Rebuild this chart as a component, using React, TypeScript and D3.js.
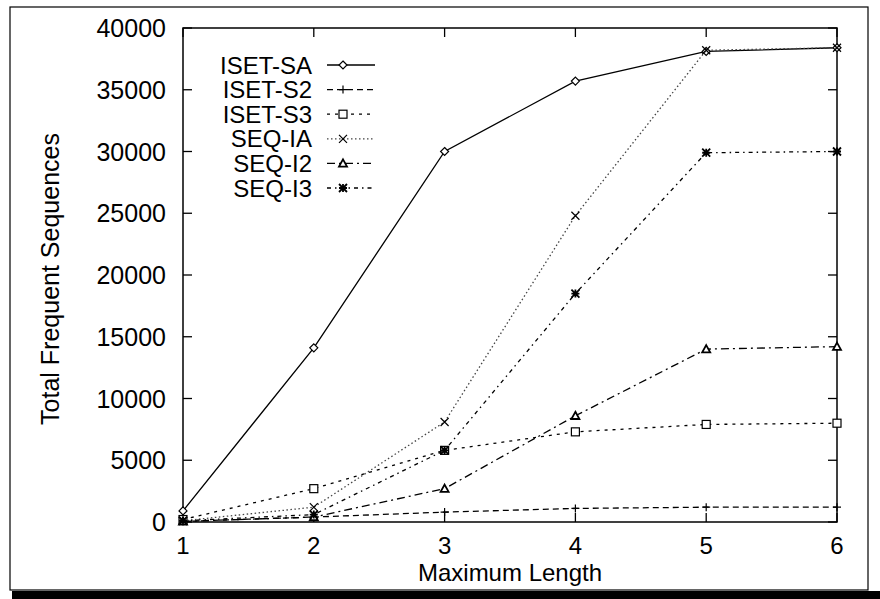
import React from "react"
import * as d3 from "d3"

const W = 880
const H = 599

const lengths = [1, 2, 3, 4, 5, 6]
const yTicks = [0, 5000, 10000, 15000, 20000, 25000, 30000, 35000, 40000]

const isetSA = [900, 14100, 30000, 35700, 38100, 38400]
const isetS2 = [50, 400, 800, 1100, 1200, 1200]
const isetS3 = [200, 2700, 5800, 7300, 7900, 8000]
const seqIA = [100, 1200, 8100, 24800, 38200, 38400]
const seqI2 = [50, 400, 2700, 8600, 14000, 14200]
const seqI3 = [100, 600, 5800, 18500, 29900, 30000]

const seriesNames = ["ISET-SA", "ISET-S2", "ISET-S3", "SEQ-IA", "SEQ-I2", "SEQ-I3"]
const seriesValues = [isetSA, isetS2, isetS3, seqIA, seqI2, seqI3]
const dashes = ["none", "6,4", "3,5", "1.5,2.5", "8,4,2,4", "4,4,1.5,4"]
const strokes = ["#000", "#000", "#000", "#444", "#000", "#000"]
const markers = ["diamond", "plus", "square", "cross", "triangle", "star"]

const plot = { left: 183, right: 837, top: 28, bottom: 522 }
const font = "'Liberation Sans', Arial, Helvetica, sans-serif"

const x = d3.scaleLinear().domain([1, 6]).range([plot.left, plot.right])
const y = d3.scaleLinear().domain([0, 40000]).range([plot.bottom, plot.top])

const Marker = ({ kind, cx, cy }: { kind: string; cx: number; cy: number }) => {
  const s = 4
  const st = { stroke: "#000", strokeWidth: 1.2, fill: "none" }
  if (kind === "diamond")
    return <path d={`M${cx},${cy - s}L${cx + s},${cy}L${cx},${cy + s}L${cx - s},${cy}Z`} style={{ ...st, fill: "#fff" }} />
  if (kind === "plus")
    return <path d={`M${cx - s},${cy}H${cx + s}M${cx},${cy - s}V${cy + s}`} style={st} />
  if (kind === "square")
    return <rect x={cx - s} y={cy - s} width={2 * s} height={2 * s} style={{ ...st, fill: "#fff" }} />
  if (kind === "cross")
    return <path d={`M${cx - s},${cy - s}L${cx + s},${cy + s}M${cx - s},${cy + s}L${cx + s},${cy - s}`} style={st} />
  if (kind === "triangle")
    return <path d={`M${cx},${cy - s}L${cx + s},${cy + s * 0.8}L${cx - s},${cy + s * 0.8}Z`} style={{ ...st, fill: "#fff", strokeWidth: 1.8 }} />
  return (
    <path
      d={`M${cx - s},${cy - s}L${cx + s},${cy + s}M${cx - s},${cy + s}L${cx + s},${cy - s}M${cx - s},${cy}H${cx + s}M${cx},${cy - s}V${cy + s}`}
      style={{ ...st, strokeWidth: 1.8 }}
    />
  )
}

export default function App() {
  const line = d3
    .line<number>()
    .x((_, i) => x(lengths[i]))
    .y(d => y(d))

  return (
    <svg width={W} height={H} style={{ position: "absolute", left: 0, top: 0, background: "#fff" }}>
      {/* scanned page frame */}
      <rect x={10} y={7} width={858} height={583} style={{ fill: "none", stroke: "#000", strokeWidth: 1.2 }} />
      <rect x={12} y={591} width={868} height={8} style={{ fill: "#000" }} />

      <rect
        x={plot.left}
        y={plot.top}
        width={plot.right - plot.left}
        height={plot.bottom - plot.top}
        style={{ fill: "none", stroke: "#000", strokeWidth: 1.5 }}
      />

      {yTicks.map(t => (
        <g key={t}>
          <line x1={plot.left} x2={plot.left + 9} y1={y(t)} y2={y(t)} stroke="#000" strokeWidth={1.3} />
          <line x1={plot.right} x2={plot.right - 9} y1={y(t)} y2={y(t)} stroke="#000" strokeWidth={1.3} />
          <text x={plot.left - 17} y={y(t)} dy="0.36em" textAnchor="end" style={{ font: `25px ${font}` }}>
            {t}
          </text>
        </g>
      ))}
      {lengths.map(t => (
        <g key={t}>
          <line x1={x(t)} x2={x(t)} y1={plot.bottom} y2={plot.bottom - 9} stroke="#000" strokeWidth={1.3} />
          <line x1={x(t)} x2={x(t)} y1={plot.top} y2={plot.top + 9} stroke="#000" strokeWidth={1.3} />
          <text x={x(t)} y={554} textAnchor="middle" style={{ font: `24px ${font}` }}>
            {t}
          </text>
        </g>
      ))}

      <text x={(plot.left + plot.right) / 2} y={581} textAnchor="middle" style={{ font: `24px ${font}` }}>
        Maximum Length
      </text>
      <text
        transform={`translate(59,${(plot.top + plot.bottom) / 2 + 4}) rotate(-90)`}
        textAnchor="middle"
        style={{ font: `25px ${font}` }}
      >
        Total Frequent Sequences
      </text>

      {seriesValues.map((vals, k) => (
        <g key={seriesNames[k]}>
          <path
            d={line(vals) || ""}
            style={{ fill: "none", stroke: strokes[k], strokeWidth: 1.3, strokeDasharray: dashes[k] }}
          />
          {vals.map((v, i) => (
            <Marker key={i} kind={markers[k]} cx={x(lengths[i])} cy={y(v)} />
          ))}
        </g>
      ))}

      {seriesNames.map((name, k) => {
        const ly = 65 + k * 24.6
        return (
          <g key={name}>
            <text x={312} y={ly} dy="0.36em" textAnchor="end" style={{ font: `24px ${font}` }}>
              {name}
            </text>
            <line
              x1={327}
              x2={375}
              y1={ly}
              y2={ly}
              style={{ stroke: strokes[k], strokeWidth: 1.3, strokeDasharray: dashes[k] }}
            />
            <Marker kind={markers[k]} cx={343} cy={ly} />
          </g>
        )
      })}
    </svg>
  )
}
